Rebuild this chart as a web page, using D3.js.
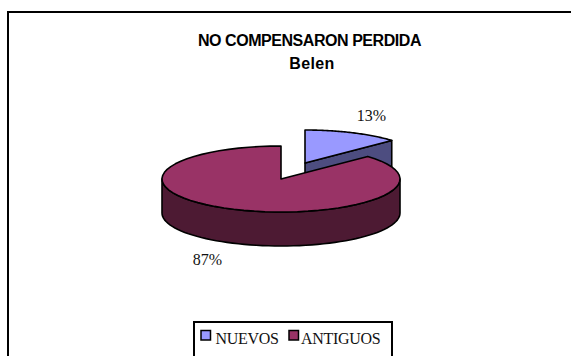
<!DOCTYPE html>
<html>
<head>
<meta charset="utf-8">
<script src="https://cdnjs.cloudflare.com/ajax/libs/d3/7.8.5/d3.min.js"></script>
<style>
html,body{margin:0;padding:0;background:#fff}
svg{display:block}
</style>
</head>
<body>
<svg id="chart" width="571" height="356"></svg>
<script>
const categories = ["NUEVOS", "ANTIGUOS"];
const shares = [13, 87];
const topColors = ["#9999ff", "#993366"];
const sideColors = ["#4d4d80", "#4d1a33"];
const titleLines = ["NO COMPENSARON PERDIDA", "Belen"];

const svg = d3.select("#chart");
const serif = "'Liberation Serif','Times New Roman',serif";
const sans = "'Liberation Sans',Arial,sans-serif";

// Outer frame: runs off the window on the right and at the bottom
svg.append("path")
  .attr("d", "M8,356V12H571")
  .attr("fill", "none").attr("stroke", "#000").attr("stroke-width", 2);

const titleX = [309.5, 312];
const titleSpacing = [-0.45, 0.4];
titleLines.forEach((t, i) => {
  svg.append("text").text(t)
    .attr("x", titleX[i]).attr("y", 46 + i * 23)
    .attr("text-anchor", "middle")
    .attr("font-family", sans).attr("font-size", 16).attr("font-weight", 700)
    .attr("letter-spacing", titleSpacing[i]);
});

// Pie angles mapped onto a flattened ellipse to fake the 3-D tilt
const pie = d3.pie().sort(null)(shares);
const rx = d3.scaleLinear().domain([0, 1]).range([0, 119]);
const ry = d3.scaleLinear().domain([0, 1]).range([0, 33]);
const depth = 34;
const centre = { x: 281, y: 179 };
const explode = [{ x: 24, y: -16 }, { x: 0, y: 0 }];

const project = (a, o, dy = 0) => [
  centre.x + o.x + rx(Math.sin(a)),
  centre.y + o.y + dy - ry(Math.cos(a))
];
const arcPts = (a0, a1, o, dy = 0) =>
  d3.range(0, 61).map(i => project(a0 + (a1 - a0) * i / 60, o, dy));
const line = d3.line();
const style = sel => sel.attr("stroke", "#000").attr("stroke-width", 1.6).attr("stroke-linejoin", "round");

// Nearer surfaces are painted last: rear slice first, then the large one
[0, 1].forEach(i => {
  const d = pie[i], o = explode[i];
  const apex = [centre.x + o.x, centre.y + o.y];
  const apexLow = [apex[0], apex[1] + depth];

  if (i === 0) {
    // cut face of the small slice, seen from the front
    const end = project(d.endAngle, o);
    const endLow = project(d.endAngle, o, depth);
    svg.append("path").call(style)
      .attr("d", line([apex, end, endLow, apexLow]) + "Z")
      .attr("fill", sideColors[i]);
  } else {
    // outer wall of the large slice: only the front half of the rim shows
    const a0 = Math.PI / 2, a1 = 3 * Math.PI / 2;
    const wall = arcPts(a0, a1, o).concat(arcPts(a1, a0, o, depth));
    svg.append("path").call(style)
      .attr("d", line(wall) + "Z")
      .attr("fill", sideColors[i]);
  }
  svg.append("path").call(style)
    .attr("d", line([apex].concat(arcPts(d.startAngle, d.endAngle, o))) + "Z")
    .attr("fill", topColors[i]);
});

// Percentage labels
const labelPos = [[371.5, 121], [207.5, 265]];
shares.forEach((v, i) => {
  svg.append("text").text(v + "%")
    .attr("x", labelPos[i][0]).attr("y", labelPos[i][1])
    .attr("text-anchor", "middle")
    .attr("font-family", serif).attr("font-size", 16).attr("fill", "#111");
});

// Legend box, cut off by the bottom of the window
svg.append("path")
  .attr("d", "M194,356V322H392V356")
  .attr("fill", "#fff").attr("stroke", "#000").attr("stroke-width", 2);
const legendX = [201, 289];
const legendTextX = [215.5, 301];
categories.forEach((c, i) => {
  svg.append("rect")
    .attr("x", legendX[i]).attr("y", 330.5).attr("width", 9.5).attr("height", 9.5)
    .attr("fill", topColors[i]).attr("stroke", "#000").attr("stroke-width", 1.5);
  svg.append("text").text(c)
    .attr("x", legendTextX[i]).attr("y", 344)
    .attr("font-family", serif).attr("font-size", 16).attr("fill", "#111")
    .attr("letter-spacing", -0.3);
});
</script>
</body>
</html>
